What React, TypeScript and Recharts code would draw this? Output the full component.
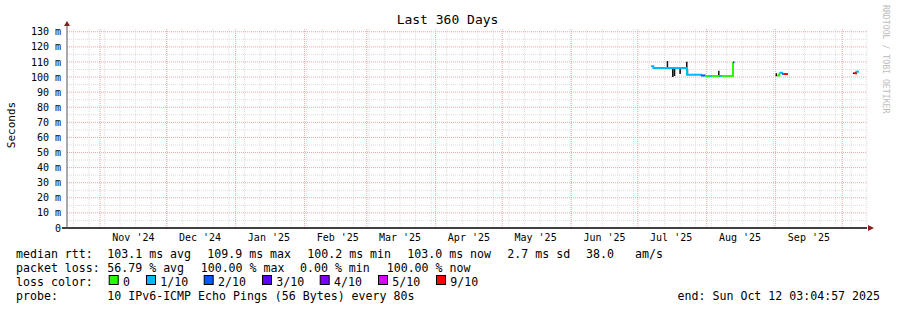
import React from 'react'
import { ComposedChart, Line, XAxis, YAxis, ReferenceLine, ReferenceDot } from 'recharts'

const MONO = '"DejaVu Sans Mono", monospace'
const DAY_MS = 86400000
// graph covers the last 360 days up to Sun Oct 12 03:04:57 2025
const START = Date.UTC(2024, 9, 17, 3, 4, 57)
const RANGE_DAYS = 360
const Y_MAX = 132.5

const dayOf = (y: number, m: number, d: number) => (Date.UTC(y, m, d) - START) / DAY_MS

const MONTH_LABELS = ["Nov '24", "Dec '24", "Jan '25", "Feb '25", "Mar '25", "Apr '25", "May '25", "Jun '25", "Jul '25", "Aug '25", "Sep '25"]
// first day of each month shown (Nov 2024 .. Oct 2025)
const MONTH_STARTS: Array<[number, number]> = [
  [2024, 10], [2024, 11], [2025, 0], [2025, 1], [2025, 2], [2025, 3],
  [2025, 4], [2025, 5], [2025, 6], [2025, 7], [2025, 8], [2025, 9],
]
const Y_TICKS = [0, 10, 20, 30, 40, 50, 60, 70, 80, 90, 100, 110, 120, 130]
const Y_MINOR = [5, 15, 25, 35, 45, 55, 65, 75, 85, 95, 105, 115, 125]

// loss colors: 0, 1/10, 2/10, 3/10, 4/10, 5/10, 9/10
const LOSS_LABELS = ['0', '1/10', '2/10', '3/10', '4/10', '5/10', '9/10']
const LOSS_COLORS = ['#26ff00', '#00b8ff', '#0059ff', '#5e00ff', '#7e00ff', '#dd00ff', '#ff0000']

// median rtt (ms), step values; null = no data from that day on
const MEDIAN_DAYS = [262.8, 263.9, 279.0, 285.3, 287.1, 289.0, 290.3, 293.4, 294.8, 299.7, 300.4,
  319.6, 320.6, 321.8, 322.3, 324.4,
  354.2, 355.1, 356.4]
const MEDIAN_MS: Array<number | null> = [107.2, 106.0, 101.6, 101.0, 100.7, 100.7, 100.7, 100.7, 100.7, 109.8, null,
  101.0, 102.8, 102.0, 102.0, null,
  102.5, 103.6, null]
const MEDIAN_LOSS = [1, 1, 1, 2, 0, 1, 0, 1, 0, 2, 0,
  0, 1, 2, 6, 0,
  6, 1, 0]

// smoke strokes: day, low, high (ms)
const SMOKE_DAYS = [270.2, 272.6, 273.4, 275.9, 278.9, 279.2, 285.5, 293.3, 299.6, 319.2, 354.0]
const SMOKE_LO = [106.0, 100.0, 100.7, 102.0, 104.7, 101.6, 100.7, 100.7, 100.7, 100.5, 102.0]
const SMOKE_HI = [110.6, 106.0, 106.0, 106.0, 110.2, 105.0, 101.6, 104.2, 109.8, 102.5, 103.0]

const monthDays = MONTH_STARTS.map(([y, m]) => dayOf(y, m, 1))
const labelDays = MONTH_STARTS.slice(0, 11).map(([y, m]) => dayOf(y, m, 16))
// weekly minor grid, on sundays
const weekDays: number[] = []
for (let d = dayOf(2024, 9, 20); d < RANGE_DAYS; d += 7) weekDays.push(d)

type Pt = { d: number; v: number | null }

function medianRuns() {
  const runs: Array<{ color: string; data: Pt[] }> = []
  for (let i = 0; i < MEDIAN_DAYS.length - 1; i++) {
    const v = MEDIAN_MS[i]
    if (v == null) continue
    const next = MEDIAN_MS[i + 1]
    const color = LOSS_COLORS[MEDIAN_LOSS[i]]
    const last = runs[runs.length - 1]
    const endPt = { d: MEDIAN_DAYS[i + 1], v: next == null ? v : next }
    if (last && last.color === color && last.data[last.data.length - 1].d === MEDIAN_DAYS[i]) {
      last.data.push(endPt)
    } else {
      runs.push({ color, data: [{ d: MEDIAN_DAYS[i], v }, endPt] })
    }
  }
  return runs
}

const smokeData: Pt[] = SMOKE_DAYS.flatMap((d, i) => [
  { d, v: SMOKE_LO[i] },
  { d, v: SMOKE_HI[i] },
  { d, v: null },
])

const gridRed = '#f4a4a4'
const gridGray = '#dcdcdc'

const legendRow1: Array<[number, string]> = [
  [16, 'median rtt:'], [107.3, '103.1 ms avg'], [207.3, '109.9 ms max'], [307.3, '100.2 ms min'],
  [407.3, '103.0 ms now'], [507.3, '2.7 ms sd'], [586, '38.0'], [635, 'am/s'],
]
const legendRow2: Array<[number, string]> = [
  [16, 'packet loss:'], [107.3, '56.79 % avg'], [200.7, '100.00 % max'], [300, '0.00 % min'], [386.7, '100.00 % now'],
]
const SWATCH_X = [108.7, 146, 203.7, 262, 319.7, 378, 436]

export default function App() {
  const runs = medianRuns()
  return (
    <div style={{ position: 'absolute', left: 0, top: 0, width: 897, height: 310, background: '#fff' }}>
      <ComposedChart
        width={897}
        height={310}
        margin={{ top: 28, right: 30, bottom: 62, left: 0 }}
        style={{ position: 'absolute', left: 0, top: 0 }}
      >
        <XAxis
          type="number"
          dataKey="d"
          domain={[0, RANGE_DAYS]}
          allowDataOverflow
          ticks={labelDays}
          interval={0}
          tickFormatter={(_v: number, i: number) => MONTH_LABELS[i]}
          axisLine={false}
          tickLine={false}
          tickSize={4}
          tickMargin={2}
          height={20}
          tick={{ fontSize: 10, fontFamily: MONO, fill: '#000' }}
        />
        <YAxis
          type="number"
          domain={[0, Y_MAX]}
          allowDataOverflow
          ticks={Y_TICKS}
          interval={0}
          tickFormatter={(v: number) => (v === 0 ? '0' : `${v} m`)}
          axisLine={false}
          tickLine={false}
          tickSize={4}
          tickMargin={2}
          width={67}
          tick={{ fontSize: 10, fontFamily: MONO, fill: '#000' }}
        />
        {Y_MINOR.map((v) => (
          <ReferenceLine key={'ym' + v} y={v} stroke={gridGray} strokeDasharray="1 1" />
        ))}
        {weekDays.map((d) => (
          <ReferenceLine key={'w' + d} x={d} stroke={gridGray} strokeDasharray="1 1" />
        ))}
        {Y_TICKS.slice(1).map((v) => (
          <ReferenceLine key={'yM' + v} y={v} stroke={gridRed} strokeDasharray="1 1" />
        ))}
        {monthDays.map((d) => (
          <ReferenceLine key={'m' + d} x={d} stroke={gridRed} strokeDasharray="1 1" />
        ))}
        <Line
          data={smokeData}
          dataKey="v"
          type="linear"
          stroke="#111"
          strokeWidth={1.5}
          dot={false}
          isAnimationActive={false}
        />
        {runs.map((r, i) => (
          <Line
            key={'run' + i}
            data={r.data}
            dataKey="v"
            type="stepAfter"
            stroke={r.color}
            strokeWidth={2}
            dot={false}
            isAnimationActive={false}
          />
        ))}
        {/* axes with arrows */}
        <ReferenceLine
          segment={[{ x: -2.3, y: 0 }, { x: RANGE_DAYS, y: 0 }]}
          stroke="#000"
          strokeWidth={1.5}
          ifOverflow="visible"
        />
        <ReferenceLine
          segment={[{ x: 0, y: 0 }, { x: 0, y: Y_MAX + 1.3 }]}
          stroke="#555"
          strokeWidth={1}
          ifOverflow="visible"
        />
        <ReferenceDot
          x={RANGE_DAYS}
          y={0}
          ifOverflow="visible"
          shape={(p: any) => (
            <polygon points={`${p.cx + 1},${p.cy - 3} ${p.cx + 1},${p.cy + 3} ${p.cx + 7},${p.cy}`} fill="#8b1a1a" />
          )}
        />
        <ReferenceDot
          x={0}
          y={Y_MAX}
          ifOverflow="visible"
          shape={(p: any) => (
            <polygon points={`${p.cx - 3},${p.cy - 2} ${p.cx + 3},${p.cy - 2} ${p.cx},${p.cy - 7}`} fill="#8b1a1a" />
          )}
        />
      </ComposedChart>
      <svg
        width={897}
        height={310}
        style={{ position: 'absolute', left: 0, top: 0, pointerEvents: 'none' }}
        fontFamily={MONO}
      >
        <text x={447.5} y={24} textAnchor="middle" fontSize={13} fill="#000">Last 360 Days</text>
        <text x={15} y={125} textAnchor="middle" fontSize={11} fill="#000" transform="rotate(-90 15 125)">Seconds</text>
        <text
          x={883}
          y={5}
          fontSize={8.2}
          fill="#bdbdbd"
          transform="rotate(90 883 5)"
        >
          RRDTOOL / TOBI OETIKER
        </text>
        <g fontSize={11.6} fill="#000">
          {legendRow1.map(([x, t]) => (
            <text key={'r1' + x} x={x} y={258} xmlSpace="preserve">{t}</text>
          ))}
          {legendRow2.map(([x, t]) => (
            <text key={'r2' + x} x={x} y={272} xmlSpace="preserve">{t}</text>
          ))}
          <text x={16} y={286}>loss color:</text>
          {LOSS_LABELS.map((l, i) => (
            <g key={l}>
              <rect x={SWATCH_X[i] + 0.5} y={275.5} width={9} height={9} fill={LOSS_COLORS[i]} stroke="#000" strokeWidth={1} />
              <text x={SWATCH_X[i] + 14.3} y={286}>{l}</text>
            </g>
          ))}
          <text x={16} y={300}>probe:</text>
          <text x={107.3} y={300}>10 IPv6-ICMP Echo Pings (56 Bytes) every 80s</text>
          <text x={880} y={300} textAnchor="end">end: Sun Oct 12 03:04:57 2025</text>
        </g>
      </svg>
    </div>
  )
}
